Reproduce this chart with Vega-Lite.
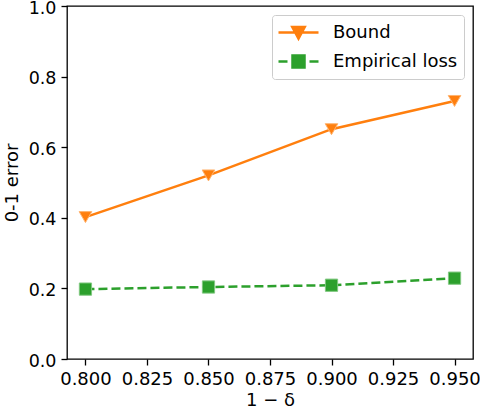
{
  "$schema": "https://vega.github.io/schema/vega-lite/v6.json",
  "autosize": "none",
  "width": 406,
  "height": 353,
  "padding": {"left": 67, "top": 6, "right": 7, "bottom": 51},
  "background": "white",
  "config": {
    "font": "DejaVu Sans",
    "view": {"stroke": "black", "strokeWidth": 1.3},
    "axis": {
      "grid": false,
      "domain": false,
      "tickColor": "black",
      "tickSize": 6,
      "tickWidth": 1.3,
      "labelFont": "DejaVu Sans",
      "labelFontSize": 18,
      "labelColor": "black",
      "labelPadding": 5,
      "titleFont": "DejaVu Sans",
      "titleFontSize": 18,
      "titleFontWeight": "normal",
      "titleColor": "black"
    }
  },
  "data": {
    "values": [
      {"x": 0.8, "y": 0.402, "series": "Bound"},
      {"x": 0.85, "y": 0.52, "series": "Bound"},
      {"x": 0.9, "y": 0.651, "series": "Bound"},
      {"x": 0.95, "y": 0.731, "series": "Bound"},
      {"x": 0.8, "y": 0.198, "series": "Empirical loss"},
      {"x": 0.85, "y": 0.204, "series": "Empirical loss"},
      {"x": 0.9, "y": 0.209, "series": "Empirical loss"},
      {"x": 0.95, "y": 0.229, "series": "Empirical loss"}
    ]
  },
  "encoding": {
    "x": {
      "field": "x", "type": "quantitative",
      "scale": {"domain": [0.7925, 0.9575], "nice": false, "zero": false},
      "axis": {"values": [0.8, 0.825, 0.85, 0.875, 0.9, 0.925, 0.95], "format": ".3f", "title": "1 − δ", "titlePadding": 3}
    },
    "y": {
      "field": "y", "type": "quantitative",
      "scale": {"domain": [0, 1], "nice": false},
      "axis": {"values": [0, 0.2, 0.4, 0.6, 0.8, 1.0], "format": ".1f", "title": "0-1 error", "titlePadding": 7, "labelOffset": 2, "labelFontSize": 17.5}
    },
    "color": {
      "field": "series", "type": "nominal",
      "scale": {"domain": ["Bound", "Empirical loss"], "range": ["#ff7f0e", "#2ca02c"]},
      "legend": {
        "title": null,
        "orient": "top-right",
        "offset": 9,
        "padding": 6,
        "rowPadding": 6,
        "symbolSize": 400,
        "symbolType": "circle",
        "symbolOffset": 9,
        "labelOffset": 23,
        "labelFont": "DejaVu Sans",
        "labelFontSize": 18,
        "labelColor": "black",
        "strokeColor": "#cccccc",
        "fillColor": "rgba(255,255,255,0.8)",
        "cornerRadius": 3,
        "symbolStrokeWidth": 2.5,
        "encode": {
          "symbols": {
            "update": {
              "shape": {"signal": "datum.value === 'Bound' ? 'M-2,0L2,0M-0.62,-0.55L0.62,-0.55L0,0.6Z' : 'M-2,0L-1.1,0M1.1,0L2,0M-0.6,-0.6L0.6,-0.6L0.6,0.6L-0.6,0.6Z'"},
              "fill": {"signal": "datum.value === 'Bound' ? '#ff7f0e' : '#2ca02c'"},
              "stroke": {"signal": "datum.value === 'Bound' ? '#ff7f0e' : '#2ca02c'"},
              "strokeWidth": {"value": 2.5},
              "opacity": {"value": 1},
              "fillOpacity": {"value": 1}
            }
          }
        }
      }
    }
  },
  "layer": [
    {
      "transform": [{"filter": "datum.series === 'Bound'"}],
      "mark": {"type": "line", "strokeWidth": 2.5}
    },
    {
      "transform": [{"filter": "datum.series === 'Empirical loss'"}],
      "mark": {"type": "line", "strokeWidth": 2.5, "strokeDash": [9, 4]}
    },
    {
      "transform": [{"filter": "datum.series === 'Bound'"}],
      "mark": {"type": "point", "shape": "triangle-down", "filled": true, "opacity": 1, "size": 160, "stroke": "#ffb470", "strokeWidth": 1}
    },
    {
      "transform": [{"filter": "datum.series === 'Empirical loss'"}],
      "mark": {"type": "point", "shape": "square", "filled": true, "opacity": 1, "size": 150, "stroke": "#80c880", "strokeWidth": 1}
    }
  ]
}
